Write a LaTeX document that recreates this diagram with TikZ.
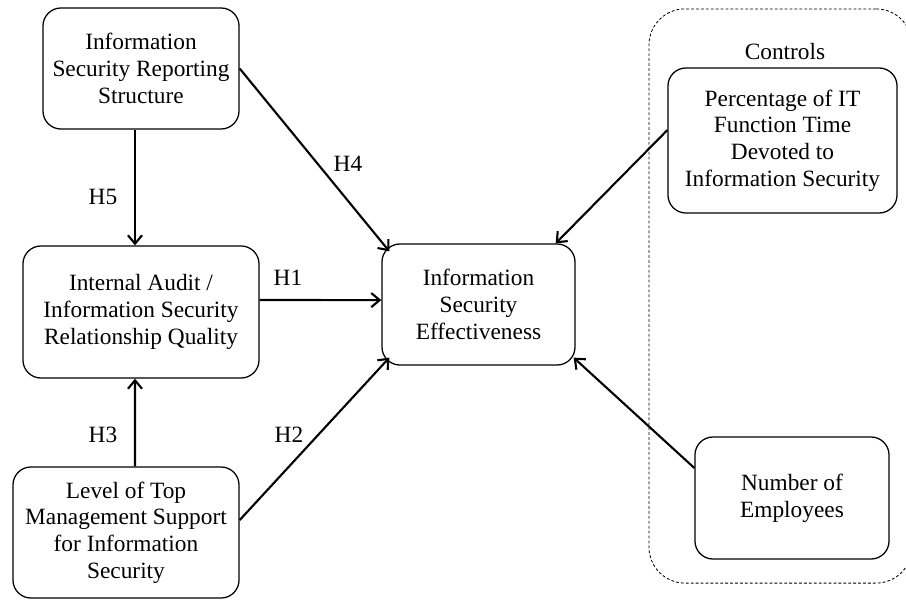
\documentclass[tikz,border=0pt]{standalone}
\usepackage{fontspec}
\setmainfont{Liberation Serif}
\usetikzlibrary{arrows.meta}

\begin{document}
\begin{tikzpicture}[x=0.025cm, y=-0.025cm,
        font=\fontsize{16.6}{19}\selectfont,
        construct/.style={draw, rounded corners=0.45cm, align=center, line width=0.9pt, inner sep=0pt},
        link/.style={-{Straight Barb[length=6pt,width=10pt]}, line width=1.5pt},
        hyp/.style={inner sep=0pt}]
            \useasboundingbox (0,0) rectangle (906,599);
            \clip (0,0) rectangle (906,599);

            % Control variables group
            \node[draw, dash pattern=on 2pt off 1.5pt, rounded corners=0.9cm, line width=0.6pt,
                minimum width=6.575cm, minimum height=14.35cm] (controls) at (780.5,296) {};
            \node (controlslabel) at (785,52) {Controls};

            % Constructs
            \node[construct, minimum width=4.9cm, minimum height=3.025cm] (isrs) at (141,68.5)
                {Information\\Security Reporting\\Structure};
            \node[construct, minimum width=5.9cm, minimum height=3.3cm] (ia) at (141,312)
                {Internal Audit /\\Information Security\\Relationship Quality};
            \node[construct, minimum width=5.65cm, minimum height=3.275cm] (ltms) at (126,532.5)
                {Level of Top\\Management Support\\for Information\\Security};
            \node[construct, minimum width=4.825cm, minimum height=3.025cm] (ise) at (478.5,304.5)
                {Information\\Security\\Effectiveness};
            \node[construct, minimum width=5.725cm, minimum height=3.625cm] (pct) at (782.5,140.5)
                {Percentage of IT\\Function Time\\Devoted to\\Information Security};
            \node[construct, minimum width=4.85cm, minimum height=3.05cm] (numemp) at (792,498)
                {Number of\\Employees};

            % Paths
            \draw[link] ([xshift=-0.15cm]isrs.south) -- ([xshift=-0.15cm]ia.north);
            \draw[link] (isrs.east) -- ([shift={(0.2cm,-0.2cm)}]ise.north west);
            \draw[link] ([yshift=0.3cm]ia.east) -- ([yshift=0.11cm]ise.west);
            \draw[link] ([xshift=0.225cm]ltms.north) -- ([xshift=-0.15cm]ia.south);
            \draw[link] ([yshift=0.31cm]ltms.east) -- ([shift={(0.2cm,0.2cm)}]ise.south west);
            \draw[link] ([yshift=0.26cm]pct.west) -- ([xshift=-0.5cm]ise.north east);
            \draw[link] ([yshift=0.75cm]numemp.west) -- ([shift={(-0.05cm,0.2cm)}]ise.south east);

            % Hypothesis labels
            \node[hyp] (h1) at (288,278) {H1};
            \node[hyp] (h2) at (289,435) {H2};
            \node[hyp] (h3) at (103,435) {H3};
            \node[hyp] (h4) at (348,164) {H4};
            \node[hyp] (h5) at (103,197) {H5};
        \end{tikzpicture}
\end{document}
